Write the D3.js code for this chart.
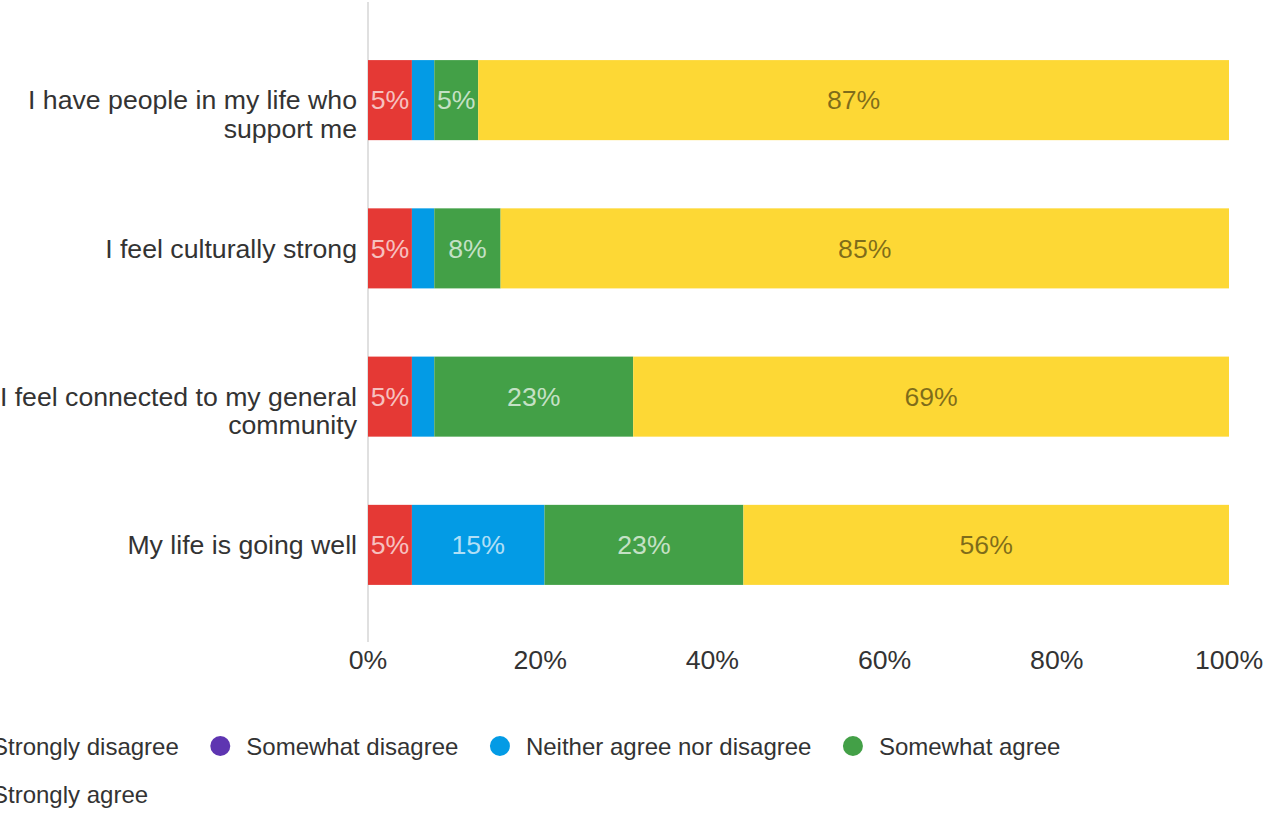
<!DOCTYPE html>
<html>
<head>
<meta charset="utf-8">
<script src="https://cdn.jsdelivr.net/npm/d3@7"></script>
<style>
  html, body { margin: 0; padding: 0; background: #fff; overflow: hidden; }
  svg { display: block; font-family: "Liberation Sans", Arial, sans-serif; }
</style>
</head>
<body>
<div id="chart"></div>
<script>
// data (percent of respondents)
var categories = [
  ["I have people in my life who", "support me"],
  ["I feel culturally strong"],
  ["I feel connected to my general", "community"],
  ["My life is going well"]
]
var seriesNames = ["Strongly disagree", "Somewhat disagree", "Neither agree nor disagree", "Somewhat agree", "Strongly agree"]
var seriesColors = ["#e53935", "#5e35b1", "#039be5", "#43a047", "#fdd835"]
var stronglyDisagree = [5.1, 5.1, 5.1, 5.1]
var somewhatDisagree = [0, 0, 0, 0]
var neither = [2.6, 2.6, 2.6, 15.4]
var somewhatAgree = [5.1, 7.7, 23.1, 23.1]
var stronglyAgree = [87.2, 84.6, 69.2, 56.4]
var tickValues = [0, 20, 40, 60, 80, 100]

var W = 1265, H = 814
var bigFont = 26.67
var svg = d3.select("#chart").append("svg")
  .attr("width", W).attr("height", H)

var x = d3.scaleLinear().domain([0, 100]).range([368, 1229])
var y = d3.scaleBand().domain(d3.range(categories.length))
  .range([26, 619]).paddingInner(0.46).paddingOuter(0.23)

var rows = categories.map(function (c, i) {
  return {
    i: i,
    "Strongly disagree": stronglyDisagree[i],
    "Somewhat disagree": somewhatDisagree[i],
    "Neither agree nor disagree": neither[i],
    "Somewhat agree": somewhatAgree[i],
    "Strongly agree": stronglyAgree[i]
  }
})
var stacked = d3.stack().keys(seriesNames)(rows)

// axis line
svg.append("line")
  .attr("x1", x(0)).attr("x2", x(0))
  .attr("y1", 2).attr("y2", 642)
  .attr("stroke", "#e0e0e0").attr("stroke-width", 2)

var layers = svg.selectAll("g.layer").data(stacked).enter()
  .append("g").attr("class", "layer")
  .attr("fill", function (d, i) { return seriesColors[i] })

layers.selectAll("rect").data(function (d) { return d }).enter()
  .append("rect")
  .attr("x", function (d) { return x(d[0]) })
  .attr("width", function (d) { return x(d[1]) - x(d[0]) })
  .attr("y", function (d) { return y(d.data.i) })
  .attr("height", y.bandwidth())

// value labels (only where they fit)
layers.each(function (layer, li) {
  d3.select(this).selectAll("text").data(layer).enter()
    .append("text")
    .filter(function (d) {
      var w = x(d[1]) - x(d[0])
      var txt = Math.round(d[1] - d[0]) + "%"
      return w > txt.length * 13 + 2
    })
    .attr("x", function (d) { return (x(d[0]) + x(d[1])) / 2 })
    .attr("y", function (d) { return y(d.data.i) + y.bandwidth() / 2 })
    .attr("dy", "0.35em")
    .attr("text-anchor", "middle")
    .attr("font-size", bigFont)
    .attr("fill", li == 4 ? "rgba(0,0,0,0.5)" : "rgba(255,255,255,0.7)")
    .text(function (d) { return Math.round(d[1] - d[0]) + "%" })
})

// category labels
svg.selectAll("text.cat").data(categories).enter()
  .append("text").attr("class", "cat")
  .attr("text-anchor", "end")
  .attr("font-size", bigFont)
  .attr("fill", "#333")
  .attr("y", function (d, i) { return y(i) + y.bandwidth() / 2 })
  .selectAll("tspan").data(function (d) { return d }).enter()
  .append("tspan")
  .attr("x", 357)
  .attr("dy", function (d, j) { return j == 0 ? "0.35em" : "1.07em" })
  .text(function (d) { return d })

// x ticks
svg.selectAll("text.tick").data(tickValues).enter()
  .append("text").attr("class", "tick")
  .attr("x", function (d) { return x(d) })
  .attr("y", 660).attr("dy", "0.35em")
  .attr("text-anchor", "middle")
  .attr("font-size", bigFont)
  .attr("fill", "#333")
  .text(function (d) { return d + "%" })

// legend, wraps at the window edge
var startX = -44, lx = startX, ly = 747
var legend = svg.append("g")
seriesNames.forEach(function (name, i) {
  var g = legend.append("g")
  var t = g.append("text")
    .attr("font-size", 24).attr("fill", "#333")
    .attr("x", 36).attr("dy", "0.35em")
    .text(name)
  var w = 36 + t.node().getComputedTextLength()
  if (lx + w > W && lx > startX) { lx = startX; ly += 48 }
  g.attr("transform", "translate(" + lx + "," + ly + ")")
  g.append("circle").attr("cx", 10).attr("cy", -1).attr("r", 10)
    .attr("fill", seriesColors[i])
  lx += w + 31.5
})
</script>
</body>
</html>
